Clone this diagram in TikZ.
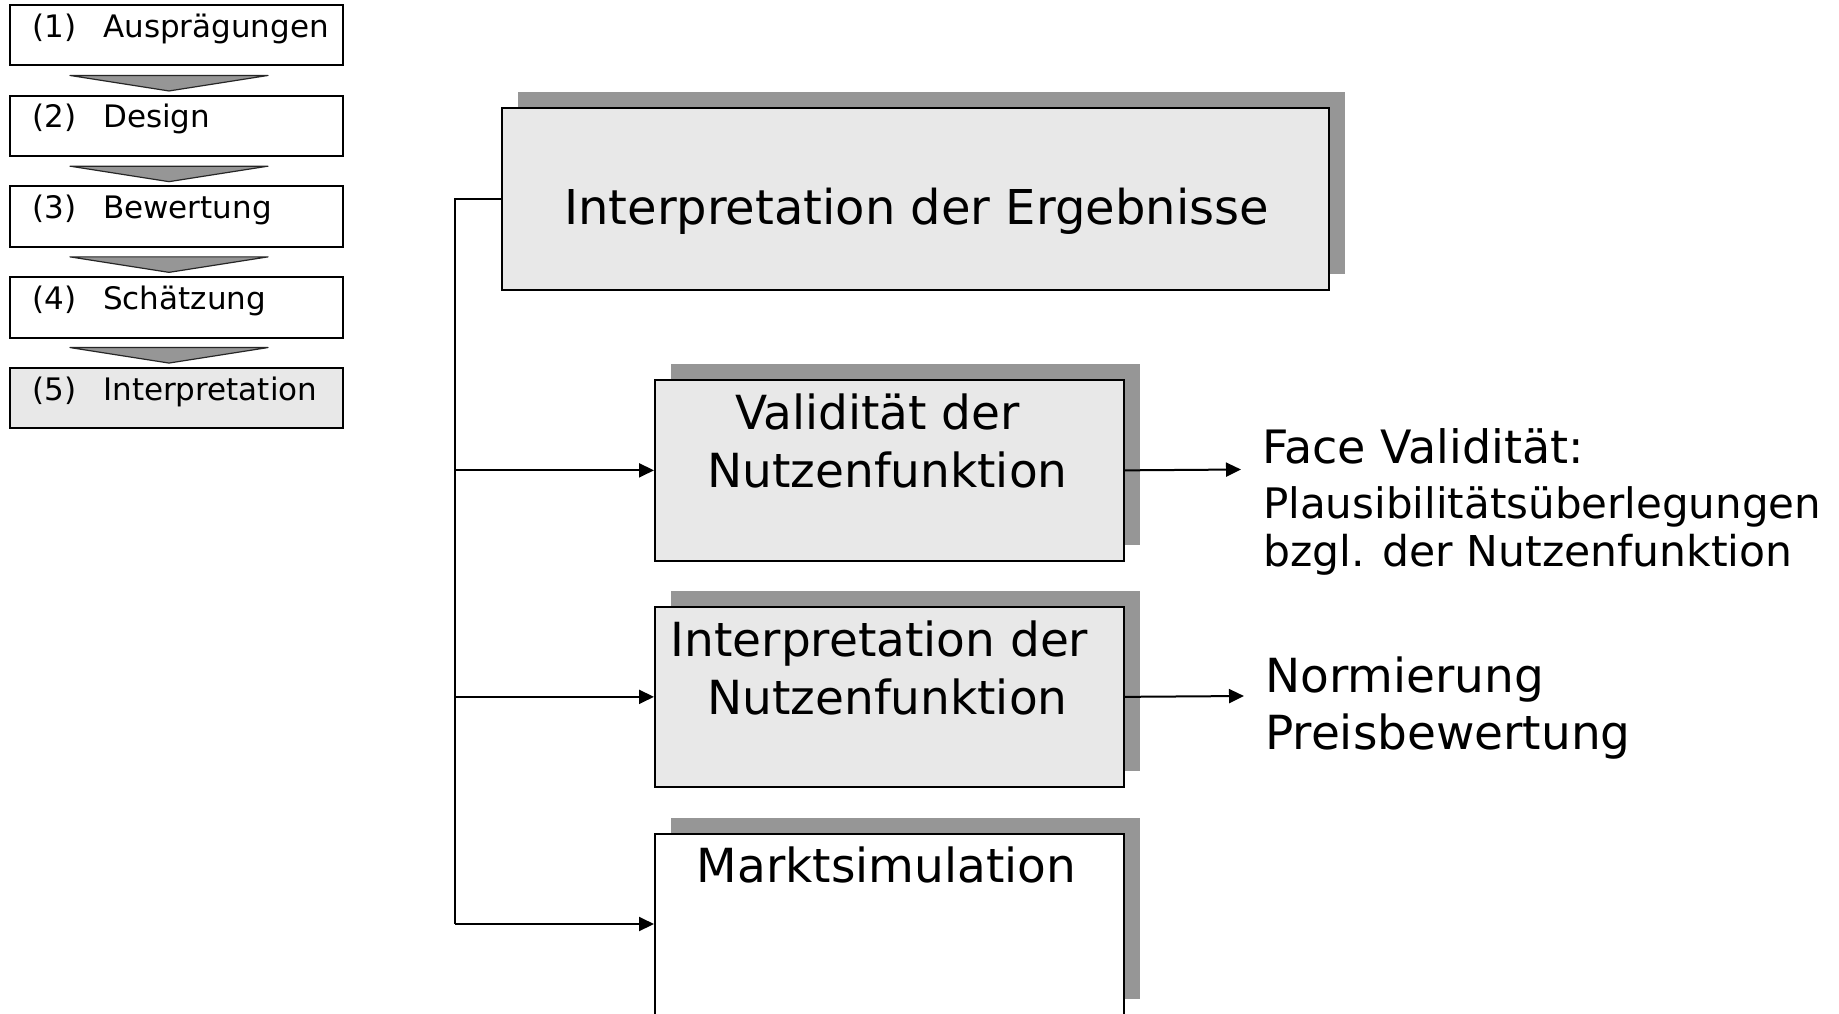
\documentclass[tikz,border=0pt]{standalone}
\usepackage{fontspec}
\setmainfont{DejaVu Sans}
\usetikzlibrary{calc,arrows.meta,shadows}
\definecolor{boxgray}{HTML}{E8E8E8}
\definecolor{shadowgray}{HTML}{969696}
\begin{document}
\begin{tikzpicture}[x=1pt,y=-1pt,
  stepbox/.style={draw=black, line width=2pt, minimum width=333pt, minimum height=60.5pt, inner sep=0pt, fill=white},
  steptext/.style={anchor=base west, inner sep=0pt, font=\fontsize{31}{37}\selectfont},
  flowtri/.style={fill=shadowgray, draw=black!85, line width=1.2pt, line join=round},
  mainbox/.style={draw=black, line width=2pt, fill=boxgray, inner sep=0pt,
    drop shadow={shadow xshift=16pt, shadow yshift=16pt, fill=shadowgray, opacity=1}},
  boxtext/.style={anchor=base, inner sep=0pt, font=\fontsize{47}{56}\selectfont},
  righttext/.style={anchor=base west, inner sep=0pt},
  conn/.style={line width=2pt, draw=black},
  arr/.style={-{Triangle[length=15pt,width=14pt]}}
]
\clip (0,0) rectangle (1839,1013);
\fill[white] (0,0) rectangle (1839,1013);

% left process steps
\node[stepbox] (b1) at (176.5,35.2) {};
\node[stepbox] (b2) at (176.5,125.9) {};
\node[stepbox] (b3) at (176.5,216.6) {};
\node[stepbox] (b4) at (176.5,307.3) {};
\node[stepbox, fill=boxgray] (b5) at (176.5,398.0) {};
\foreach \b/\n/\t in {b1/1/Ausprägungen, b2/2/Design, b3/3/Bewertung, b4/4/Schätzung, b5/5/Interpretation}{
  \node[steptext] (\b num) at ($(\b.center)+(-144.5,2)$) {(\n)};
  \node[steptext] (\b lab) at ($(\b.center)+(-73.5,2)$) {\t};
}
\foreach \a in {b1,b2,b3,b4}{
  \draw[flowtri] ($(\a.south)+(-106.5,9)$) -- ($(\a.south)+(91.5,9)$) -- ($(\a.south)+(-7.5,24.5)$) -- cycle;
}

% main boxes
\node[mainbox, minimum width=827.5pt, minimum height=181.7pt] (big) at (915.5,199.15) {};
\node[mainbox, minimum width=469pt, minimum height=180.7pt] (val) at (889.5,470.35) {};
\node[mainbox, minimum width=469pt, minimum height=180.3pt] (interp) at (889.5,696.85) {};
\node[mainbox, fill=white, minimum width=469pt, minimum height=181pt] (markt) at (889.5,924) {};

\node[anchor=base, inner sep=0pt, font=\fontsize{48}{57}\selectfont] (bigt) at ($(big.center)+(1,25)$) {Interpretation der Ergebnisse};
\node[boxtext] (val1) at ($(val.center)+(-12,-41)$) {Validität der};
\node[boxtext] (val2) at ($(val.center)+(-2,17)$) {Nutzenfunktion};
\node[boxtext] (int1) at ($(interp.center)+(-10,-40.5)$) {Interpretation der};
\node[boxtext] (int2) at ($(interp.center)+(-2,17.3)$) {Nutzenfunktion};
\node[boxtext] (mar1) at ($(markt.center)+(-3,-41.5)$) {Marktsimulation};

% connectors
\coordinate (trunk) at ($(markt.west)+(-199,0)$);
\draw[conn] (big.west) -| (trunk);
\draw[conn, arr] (trunk) -- (markt.west);
\draw[conn, arr] (trunk |- val.west) -- (val.west);
\draw[conn, arr] (trunk |- interp.west) -- (interp.west);

\coordinate (fvend) at (1241,469.5);
\coordinate (nend) at (1244,696);
\draw[conn, arr] (val.east) -- (fvend);
\draw[conn, arr] (interp.east) -- (nend);

% right texts
\node[righttext, font=\fontsize{46}{55}\selectfont] (fv) at (1262,463.3) {Face Validität:};
\node[righttext, font=\fontsize{42}{50}\selectfont] (pl) at (1263,518.3) {Plausibilitätsüberlegungen};
\node[righttext, font=\fontsize{42.5}{50}\selectfont] (bz) at (1263,566) {bzgl. der Nutzenfunktion};
\node[righttext, font=\fontsize{47}{56}\selectfont] (norm) at (1265,692.5) {Normierung};
\node[righttext, font=\fontsize{47}{56}\selectfont] (preis) at (1265,749.5) {Preisbewertung};
\end{tikzpicture}
\end{document}
